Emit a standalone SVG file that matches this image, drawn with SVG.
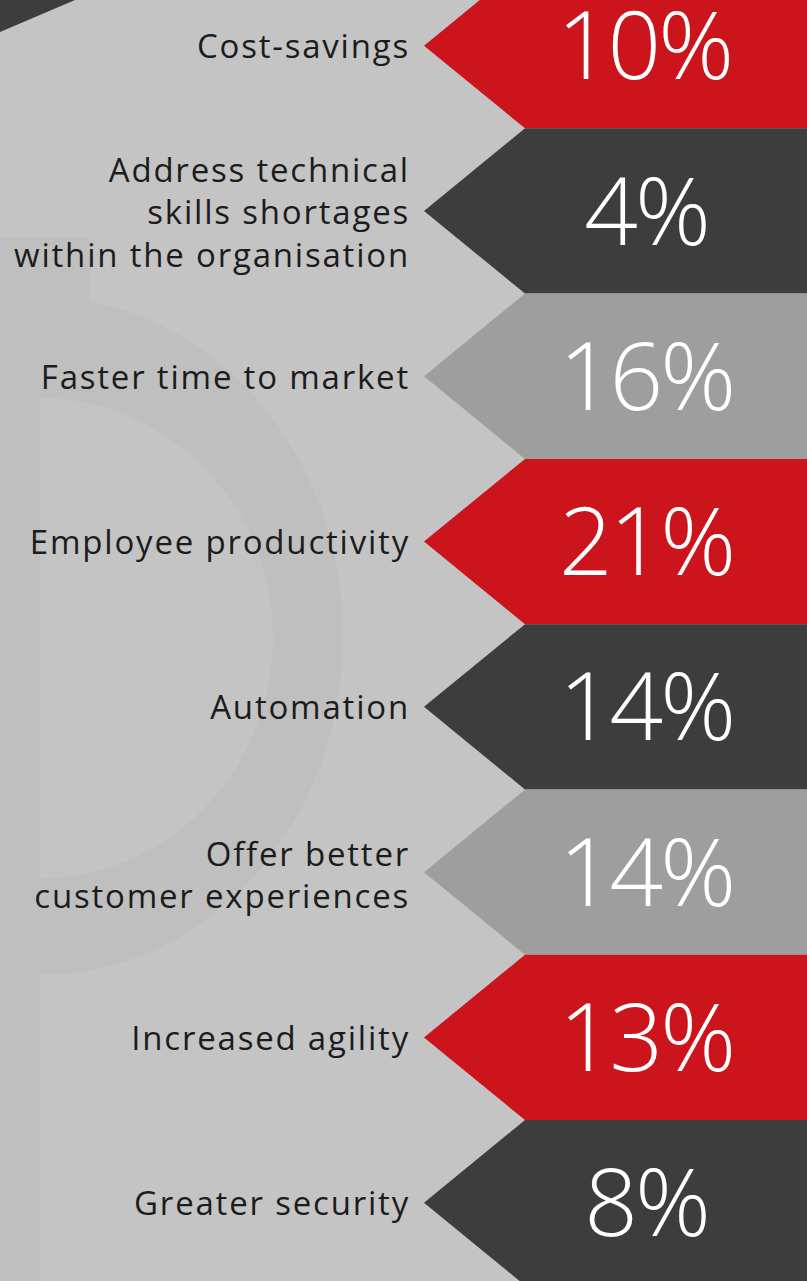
<svg xmlns="http://www.w3.org/2000/svg" width="807" height="1281" viewBox="0 0 807 1281">
<style>
.lbl{font-family:"Open Sans","Liberation Sans",sans-serif;font-size:33px;letter-spacing:1.8px;fill:#1c1c1c;text-anchor:end}
.pct{font-family:"Open Sans","Liberation Sans",sans-serif;font-weight:300;font-size:94px;letter-spacing:-3px;fill:#ffffff;text-anchor:middle}
.red{fill:#cc141c}
.dark{fill:#3d3d3d}
.gray{fill:#9e9e9e}
</style>
<rect width="807" height="1281" fill="#c4c4c4"/>
<g id="watermark">
<path d="M0,237 H90 V301.6 A303,339 0 0 1 40,975 V1281 H0 Z" fill="#bfbfbf"/>
<path d="M40,398 A233,240 0 0 1 40,878 Z" fill="#c4c4c4"/>
</g>
<polygon id="corner" points="0,0 75,0 0,32" fill="#3d3d3d"/>
<g id="connectors"/>
<g id="band1">
<polygon class="red" points="525,-37 807,-37 807,128.3 525,128.3 424,45.65"/>
<text class="pct" x="644" y="79">10%</text>
<text class="lbl" x="410" y="57.5">Cost-savings</text>
</g>
<g id="band2">
<polygon class="dark" points="525,128.3 807,128.3 807,293.6 525,293.6 424,210.95"/>
<text class="pct" x="646" y="244.5">4%</text>
<text class="lbl" x="410" y="181.5">Address technical</text>
<text class="lbl" x="410" y="224">skills shortages</text>
<text class="lbl" x="410" y="266.5">within the organisation</text>
</g>
<g id="band3">
<polygon class="gray" points="525,293.6 807,293.6 807,458.9 525,458.9 424,376.25"/>
<text class="pct" x="646" y="409.8">16%</text>
<text class="lbl" x="410" y="388.5">Faster time to market</text>
</g>
<g id="band4">
<polygon class="red" points="525,458.9 807,458.9 807,624.2 525,624.2 424,541.55"/>
<text class="pct" x="646" y="575">21%</text>
<text class="lbl" x="410" y="553.5">Employee productivity</text>
</g>
<g id="band5">
<polygon class="dark" points="525,624.2 807,624.2 807,789.5 525,789.5 424,706.85"/>
<text class="pct" x="646" y="740.3">14%</text>
<text class="lbl" x="410" y="719">Automation</text>
</g>
<g id="band6">
<polygon class="gray" points="525,789.5 807,789.5 807,954.8 525,954.8 424,872.15"/>
<text class="pct" x="646" y="905.6">14%</text>
<text class="lbl" x="410" y="866">Offer better</text>
<text class="lbl" x="410" y="907.5">customer experiences</text>
</g>
<g id="band7">
<polygon class="red" points="525,954.8 807,954.8 807,1120.1 525,1120.1 424,1037.45"/>
<text class="pct" x="646" y="1071">13%</text>
<text class="lbl" x="410" y="1049.5">Increased agility</text>
</g>
<g id="band8">
<polygon class="dark" points="525,1120.1 807,1120.1 807,1285.4 525,1285.4 424,1202.75"/>
<text class="pct" x="646" y="1236.2">8%</text>
<text class="lbl" x="410" y="1215">Greater security</text>
</g>
</svg>
